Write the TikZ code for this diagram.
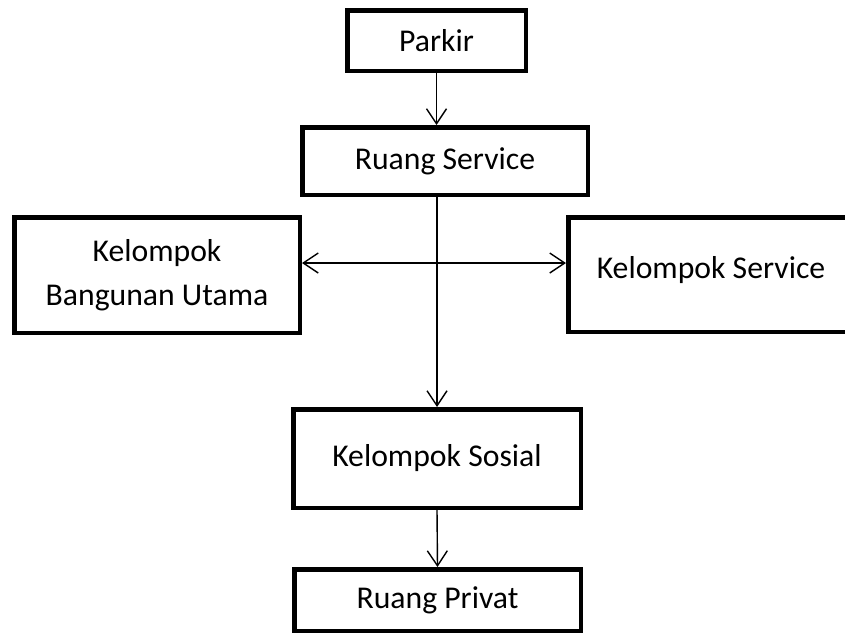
\documentclass[tikz,border=0pt]{standalone}
\usepackage{fontspec}
\setmainfont{Carlito}
\usetikzlibrary{arrows.meta}

\tikzset{
  roombox/.style={draw, rectangle, line width=4.5pt, inner sep=0pt, align=center,
    minimum width=285.5pt},
  flow/.style={line width=1.4pt},
}

\begin{document}
\begin{tikzpicture}[x=1pt, y=-1pt, font=\fontsize{31.7}{44}\selectfont,
    >={Straight Barb[length=15pt,width=20pt]}]
    \useasboundingbox (0,0) rectangle (845,635);
    \clip (0,0) rectangle (845,635);

    \node (parkir) [roombox, minimum width=178.5pt, minimum height=60.5pt] at (436.5,40.5) {Parkir};
    \node (rsrv) [roombox, minimum height=67.5pt] at (445,161) {Ruang Service};
    \node (kbu) [roombox, minimum height=115.5pt] at (157,275) {Kelompok\\Bangunan Utama};
    \node (ksrv) [roombox, minimum height=114.5pt] at (711,274.5) {\raisebox{14pt}{Kelompok Service}};
    \node (ksos) [roombox, minimum width=287.5pt, minimum height=98.5pt] at (437,458.5) {Kelompok Sosial};
    \node (rpriv) [roombox, minimum width=286.5pt, minimum height=61.5pt] at (437.5,600) {Ruang Privat};

    \draw[flow, ->] (parkir.south) -- (parkir.south |- rsrv.north);
    \draw[flow, ->] (ksos.north |- rsrv.south) -- (ksos.north);
    \draw[flow, <->] ([yshift=12pt]kbu.east) -- ([yshift=12pt]kbu.east -| ksrv.west);
    \draw[flow, ->] (ksos.south) -- (rpriv.north);
  \end{tikzpicture}
\end{document}
